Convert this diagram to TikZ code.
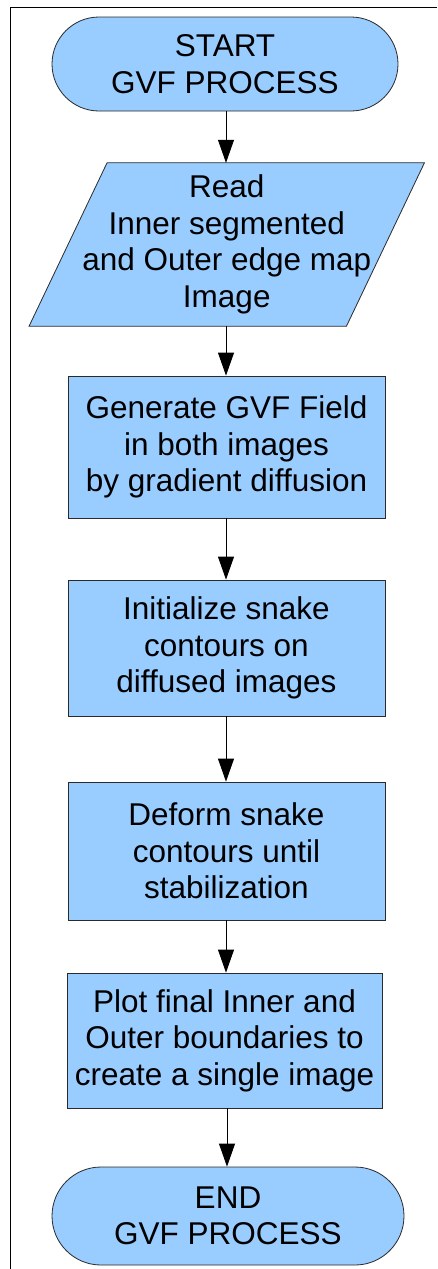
\documentclass[tikz,border=0pt]{standalone}
\usepackage{fontspec}
\setmainfont{Liberation Sans}
\usetikzlibrary{arrows.meta,calc}
\definecolor{boxfill}{HTML}{99CCFF}
\definecolor{boxline}{HTML}{2A2A2A}
\pgfdeclarelayer{background}
\pgfsetlayers{background,main}

\begin{document}
\begin{tikzpicture}[x=1pt,y=-1pt,
  label text/.style={font=\fontsize{31.5}{36.5}\selectfont, align=center, text=black, inner sep=0pt},
  flowbox/.style={draw=boxline, fill=boxfill, line width=0.8pt},
  terminal/.style={label text, flowbox, rectangle, rounded corners=47pt,
                   minimum width=346pt, minimum height=94pt},
  process/.style={label text, flowbox, rectangle, minimum width=317pt},
  flow/.style={-{Triangle[length=23pt,width=16pt]}, line width=0.8pt, black},
  frame/.style={line width=0.9pt, black}]

  % page extent
  \useasboundingbox (0,0) rectangle (437,1269);

  % outer frame (top and left edges)
  \draw[frame] (10.5,1269) -- (10.5,7) -- (437,7);

  % vertical guide lines for the connectors
  \coordinate (spine) at (226,0);
  \coordinate (spinelow) at (227,0);

  % start terminal
  \node[terminal] (start) at (225,64) {START\\GVF PROCESS};

  % input parallelogram
  \node[label text, minimum width=317pt, minimum height=163pt] (read) at (226.75,244.5)
    {Read\\Inner segmented\\and Outer edge map\\Image};
  \begin{pgfonlayer}{background}
    \draw[flowbox] ($(read.north west)+(39,0)$) -- ($(read.north east)+(39,0)$)
      -- ($(read.south east)+(-39,0)$) -- ($(read.south west)+(-39,0)$) -- cycle;
  \end{pgfonlayer}

  % process steps
  \node[process, minimum height=142pt] (gvf) at (226.5,447)
    {Generate GVF Field\\in both images\\by gradient diffusion};
  \node[process, minimum height=136pt] (init) at (226.5,648)
    {Initialize snake\\contours on\\diffused images};
  \node[process, minimum height=138pt] (deform) at (226.5,851)
    {Deform snake\\contours until\\stabilization};
  \node[process, minimum width=315pt, minimum height=135pt] (plot) at (224.5,1040.5)
    {Plot final Inner and\\Outer boundaries to\\create a single image};

  % end terminal
  \node[terminal, minimum width=352pt, minimum height=98pt, rounded corners=49pt] (end) at (228,1216)
    {END\\GVF PROCESS};

  % connectors
  \draw[flow] (spine |- start.south) -- (spine |- read.north);
  \draw[flow] (spine |- read.south) -- (spine |- gvf.north);
  \draw[flow] (spine |- gvf.south) -- (spine |- init.north);
  \draw[flow] (spine |- init.south) -- (spine |- deform.north);
  \draw[flow] (spine |- deform.south) -- (spine |- plot.north);
  \draw[flow] (spinelow |- plot.south) -- (spinelow |- end.north);
\end{tikzpicture}
\end{document}
